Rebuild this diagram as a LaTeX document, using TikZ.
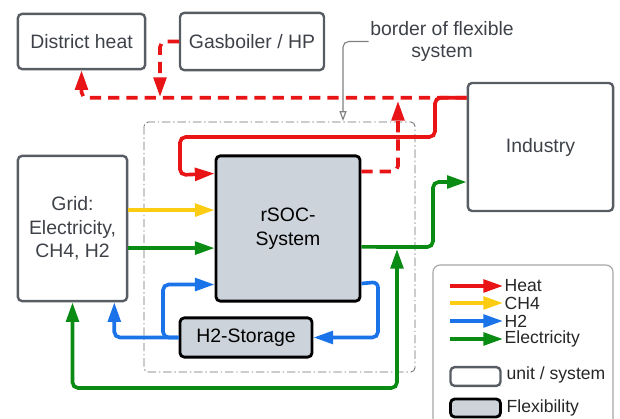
\documentclass[tikz,border=0pt]{standalone}
\usepackage{fontspec}
\setmainfont{Liberation Sans}
\usetikzlibrary{arrows.meta}
\definecolor{heatred}{RGB}{232,20,22}
\definecolor{chyellow}{RGB}{252,204,18}
\definecolor{hblue}{RGB}{26,115,232}
\definecolor{elgreen}{RGB}{10,140,20}
\definecolor{unitgray}{RGB}{88,93,100}
\definecolor{unittext}{RGB}{62,66,72}
\definecolor{flexfill}{RGB}{205,211,219}
\definecolor{bordergray}{RGB}{110,110,110}
\begin{document}
\begin{tikzpicture}[x=0.025cm, y=-0.025cm, >={Triangle[length=14pt, width=9pt]},
  unit/.style={draw=unitgray, line width=1.7pt, rectangle, rounded corners=3pt, text=unittext, align=center, font=\fontsize{13.8}{16.8}\selectfont},
  flex/.style={draw=black, fill=flexfill, line width=2pt, rectangle, rounded corners=3pt, align=center, font=\fontsize{13.8}{16.8}\selectfont},
  flow/.style={line width=2.6pt, ->, rounded corners=4pt},
  heat/.style={flow, draw=heatred},
  heatret/.style={heat, dash pattern=on 8pt off 5pt},
  chfour/.style={flow, draw=chyellow},
  htwo/.style={flow, draw=hblue},
  elec/.style={flow, draw=elgreen},
  flexborder/.style={draw=bordergray, line width=0.6pt, dash pattern=on 6pt off 2pt on 1pt off 2pt, rounded corners=3pt},
  callout/.style={draw=gray, line width=0.8pt, rounded corners=4pt, -{Triangle[open, length=7pt, width=5pt]}},
  legtext/.style={anchor=west, inner sep=1pt, text=black!85, font=\fontsize{12.5}{15}\selectfont}]
\clip (0,0) rectangle (620,419);
\draw[flexborder] (144,122) rectangle (415,372);
\node[unit, minimum width=3.18cm, minimum height=1.38cm] (dist) at (81.5,41.5) {District heat};
\node[unit, minimum width=3.6cm, minimum height=1.43cm] (boiler) at (252,41.5) {Gasboiler / HP};
\node[unit, minimum width=3.63cm, minimum height=3.2cm] (ind) at (540.5,147) {Industry};
\node[unit, minimum width=2.73cm, minimum height=3.63cm] (grid) at (72.5,228.5) {Grid:\\Electricity,\\CH4, H2};
\node[flex, minimum width=3.6cm, minimum height=3.63cm] (rsoc) at (288,228.5) {rSOC-\\System};
\node[flex, minimum width=3.3cm, minimum height=0.98cm] (stor) at (246,337.5) {H2-Storage};
\node[align=center, inner sep=1pt, text=unittext, font=\fontsize{13.8}{16.3}\selectfont] (btext) at (442,41.5) {border of flexible\\system};
\draw[callout] (btext.west) -| (343,121);
\draw[heat] ([yshift=-0.4cm]ind.north west) -| (435,137) -| (180,175) -- ([yshift=-0.475cm]rsoc.north west);
\draw[heatret] ([yshift=-0.4cm]ind.north west) -| (dist.south);
\draw[heatret] (boiler.west) -| (160,97);
\draw[heatret] ([yshift=-0.425cm]rsoc.north east) -| (398,101);
\draw[chfour] ([yshift=0.46cm]grid.east) -- ([yshift=0.46cm]rsoc.west);
\draw[elec] ([yshift=-0.49cm]grid.east) -- ([yshift=-0.49cm]rsoc.west);
\draw[elec] ([yshift=-0.46cm]rsoc.east) -- (433,247) |- ([yshift=-0.875cm]ind.west);
\draw[elec, <->] (397,249) -- (397,388) -| (grid.south);
\draw[htwo] ([yshift=0.475cm]rsoc.south east) -- (378,282) |- (stor.east);
\draw[htwo] (stor.west) -| ([xshift=-0.35cm]grid.south east);
\draw[htwo] (stor.west) -- (163,337.5) |- ([yshift=0.45cm]rsoc.south west);
\draw[draw=gray!70, line width=0.8pt, rounded corners=5pt] (433,265) rectangle (613,440);
\node[legtext] (lheat) at (503,286) {Heat};
\node[legtext] (lch) at (503,303) {CH4};
\node[legtext] (lhtwo) at (503,321) {H2};
\node[legtext] (lelec) at (503,339) {Electricity};
\draw[heat] (450,286) -- (lheat.west);
\draw[chfour] (450,303) -- (lch.west);
\draw[htwo] (450,321) -- (lhtwo.west);
\draw[elec] (450,339) -- (lelec.west);
\node[unit, minimum width=1.25cm, minimum height=0.47cm] (lunitbox) at (475.5,376.5) {};
\node[flex, minimum width=1.25cm, minimum height=0.45cm] (lflexbox) at (475.5,408) {};
\node[legtext] (lunit) at (505,375) {unit / system};
\node[legtext] (lflex) at (505,408) {Flexibility};
\end{tikzpicture}
\end{document}
